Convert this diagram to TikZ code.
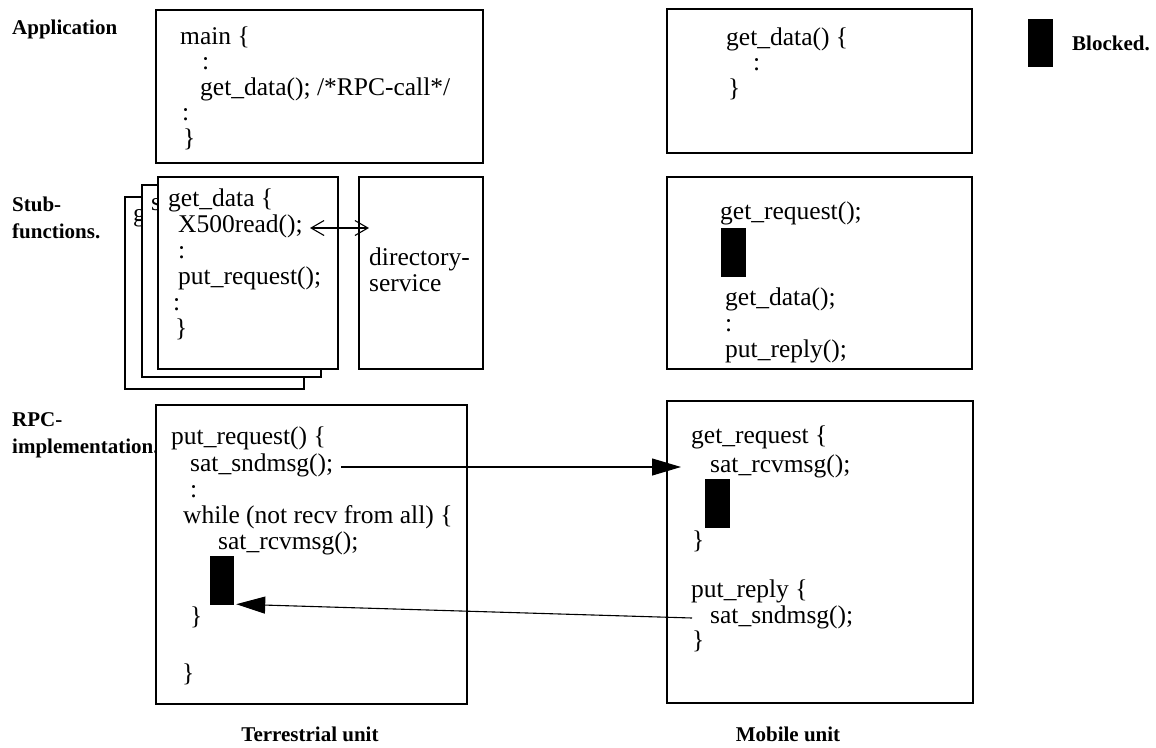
\documentclass[tikz,border=0pt]{standalone}
\usepackage{fontspec}
\setmainfont{Liberation Serif}
\usetikzlibrary{arrows.meta,fit}
\begin{document}
\begin{tikzpicture}[x=1pt,y=-1pt,
  box/.style={draw=black, line width=1.1pt, fill=white, inner sep=0pt},
  blk/.style={fill=black, inner sep=0pt},
  code/.style={font=\fontsize{25.5}{26}\selectfont, anchor=base west, inner sep=0pt},
  lbl/.style={font=\fontsize{21}{26}\selectfont\bfseries, anchor=base west, inner sep=0pt},
  sig/.style={line width=1.1pt, -{Triangle[length=29pt,width=17pt]}},
  dbl/.style={line width=1.1pt, {Straight Barb[length=13pt,width=15pt]}-{Straight Barb[length=13pt,width=15pt]}}]
\useasboundingbox (0,0) rectangle (1156,747);

% ---- row labels ----
\node[lbl] (lapp) at (12,34) {Application};
\node[lbl] (lstub1) at (12,211) {Stub-};
\node[lbl] (lstub2) at (12,238) {functions.};
\node[lbl] (lrpc1) at (12,426) {RPC-};
\node[lbl] (lrpc2) at (12,453) {implementation.};

% ---- legend ----
\node[blk, fit={(1028,19) (1053,67)}] (legblk) {};
\node[lbl] (legtxt) at (1072,50) {Blocked.};

% ---- application layer ----
\node[box, fit={(156,10) (483,163)}] (appT) {};
\node[code] (a1) at (180,44) {main \{};
\node[code] (a2) at (202,69.5) {:};
\node[code] (a3) at (200,95) {get\_data(); /*RPC-call*/};
\node[code] (a4) at (182,120.5) {:};
\node[code] (a5) at (183,146) {\}};

\node[box, fit={(667,9) (972,153)}] (appM) {};
\node[code] (m1) at (726,45) {get\_data() \{};
\node[code] (m2) at (753,70.5) {:};
\node[code] (m3) at (728,96) {\}};

% ---- stub functions, terrestrial side (stacked pages) ----
\node[box, fit={(125,197) (304,389)}] (stub3) {};
\node[code] (g3) at (133,221) {g};
\node[box, fit={(142,185) (321,377)}] (stub2) {};
\node[code] (s2) at (151,210) {s};
\node[box, fit={(158,177) (338,369)}] (stub1) {};
\node[code] (f1) at (168,206) {get\_data \{};
\node[code] (x500) at (178,232) {X500read();};
\node[code] (f3) at (178,258) {:};
\node[code] (f4) at (178,284) {put\_request();};
\node[code] (f5) at (173,310) {:};
\node[code] (f6) at (175,336) {\}};

\node[box, fit={(359,177) (483,369)}] (dir) {};
\node[code] (d1) at (369,265) {directory-};
\node[code] (d2) at (369,291) {service};

\coordinate (x500tip) at (310,228);
\coordinate (dirtip) at (369,228);
\draw[dbl] (x500tip) -- (dirtip);

% ---- stub functions, mobile side ----
\node[box, fit={(667,177) (972,369)}] (stubM) {};
\node[code] (n1) at (720,219) {get\_request();};
\node[blk, fit={(721,228) (746,277)}] (blkS) {};
\node[code] (n2) at (725,305) {get\_data();};
\node[code] (n3) at (725,331) {:};
\node[code] (n4) at (725,357) {put\_reply();};

% ---- RPC implementation, terrestrial side ----
\node[box, fit={(156,405) (467,704)}] (rpcT) {};
\node[code] (r1) at (171,444) {put\_request() \{};
\node[code] (sndL) at (190,471) {sat\_sndmsg();};
\node[code] (r3) at (190,497) {:};
\node[code] (r4) at (183,523) {while (not recv from all) \{};
\node[code] (rcvL) at (218,549) {sat\_rcvmsg();};
\node[blk, fit={(210,556) (234,605)}] (blkL) {};
\node[code] (r6) at (190,624) {\}};
\node[code] (r7) at (182,681) {\}};

% ---- RPC implementation, mobile side ----
\node[box, fit={(667,401) (973,703)}] (rpcM) {};
\node[code] (q1) at (691,443) {get\_request \{};
\node[code] (rcvR) at (710,472) {sat\_rcvmsg();};
\node[blk, fit={(705,479) (730,528)}] (blkR) {};
\node[code] (q3) at (692,548) {\}};
\node[code] (q4) at (691,597) {put\_reply \{};
\node[code] (sndR) at (710,623) {sat\_sndmsg();};
\node[code] (q6) at (692,648) {\}};

% ---- messages between the units ----
\coordinate (reqOut) at (341,467);
\coordinate (reqIn) at (681,467);
\draw[sig] (reqOut) -- (reqIn);
\coordinate (repOut) at (692,618);
\draw[sig] (repOut) -- ([shift={(2pt,1pt)}]blkL.south east);

% ---- unit captions ----
\node[lbl, anchor=base] (capT) at (310,741) {Terrestrial unit};
\node[lbl, anchor=base] (capM) at (788,741) {Mobile unit};
\end{tikzpicture}
\end{document}
